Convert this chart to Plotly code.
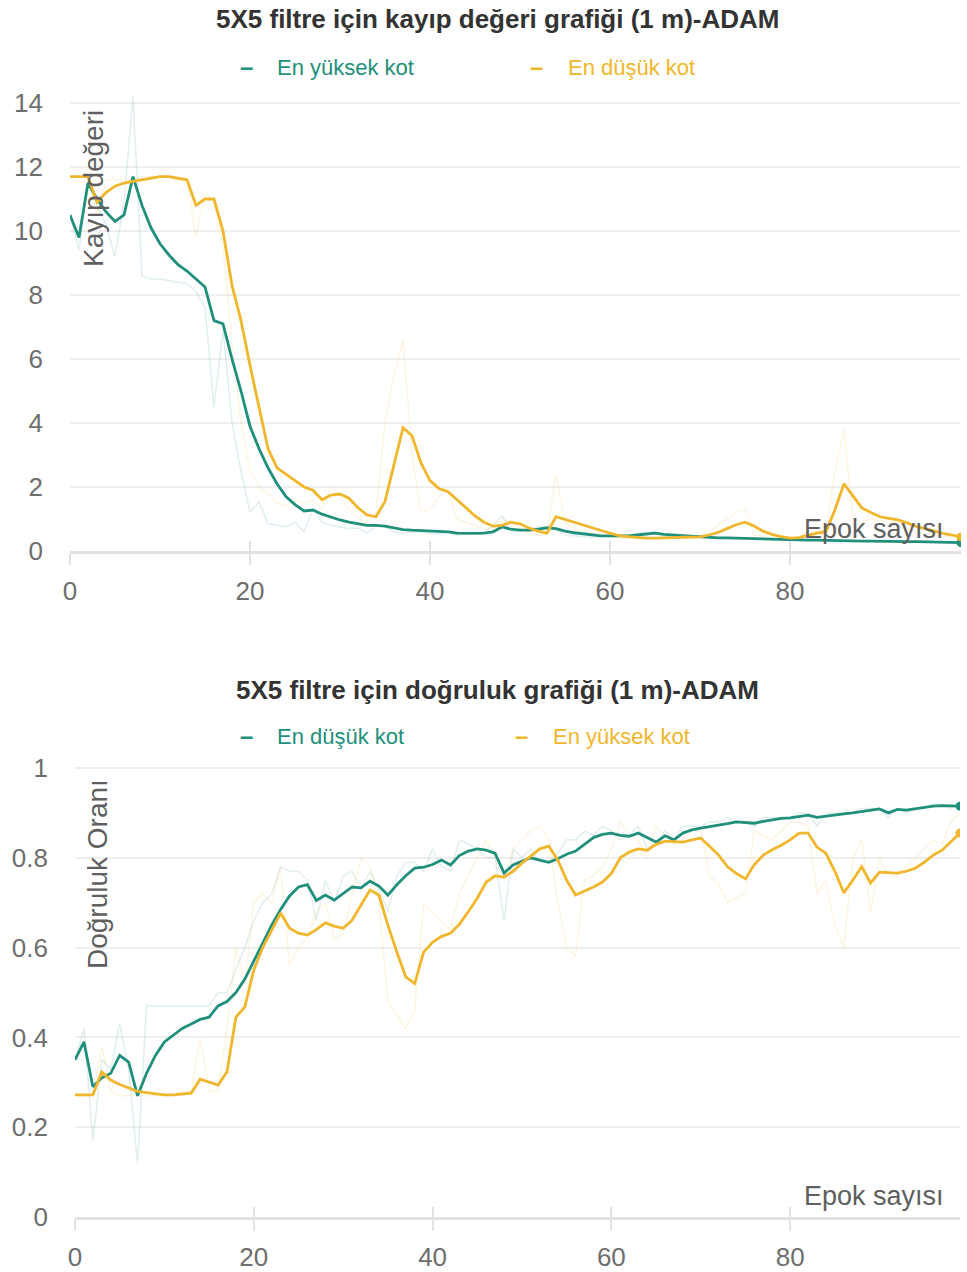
import plotly.graph_objects as go

W, H = 967, 1272
TEAL = "#20907c"
YELLOW = "#f0b62c"
FONT = "Liberation Sans, Arial, sans-serif"

epochs = list(range(100))

loss_high_smooth = [10.5, 9.8, 11.5, 11.0, 10.6, 10.3, 10.5, 11.7, 10.8, 10.1,
                    9.6, 9.25, 8.95, 8.75, 8.5, 8.25, 7.2, 7.1, 6.0, 5.0,
                    3.9, 3.2, 2.6, 2.1, 1.7, 1.45, 1.25, 1.28, 1.15, 1.05,
                    0.97, 0.9, 0.85, 0.8, 0.8, 0.78, 0.72, 0.67, 0.65, 0.64,
                    0.62, 0.6, 0.6, 0.56, 0.55, 0.55, 0.56, 0.6, 0.75, 0.68,
                    0.65, 0.65, 0.68, 0.72, 0.7, 0.62, 0.57, 0.53, 0.49, 0.47,
                    0.47, 0.47, 0.47, 0.5, 0.52, 0.56, 0.52, 0.5, 0.47, 0.45,
                    0.43, 0.42, 0.41, 0.41, 0.4, 0.4, 0.4, 0.39, 0.38, 0.37,
                    0.36, 0.35, 0.34, 0.34, 0.33, 0.33, 0.32, 0.32, 0.31, 0.31,
                    0.3, 0.3, 0.3, 0.29, 0.29, 0.28, 0.28, 0.27, 0.27, 0.26]

loss_low_smooth = [11.7, 11.7, 11.7, 10.9, 11.2, 11.4, 11.5, 11.55, 11.6, 11.65,
                   11.7, 11.7, 11.65, 11.6, 10.8, 11.0, 11.0, 10.0, 8.3, 7.2,
                   5.8, 4.5, 3.2, 2.6, 2.4, 2.2, 2.0, 1.9, 1.6, 1.75,
                   1.78, 1.65, 1.35, 1.13, 1.07, 1.55, 2.7, 3.85, 3.6, 2.75,
                   2.2, 1.95, 1.85, 1.6, 1.35, 1.1, 0.9, 0.78, 0.8, 0.9,
                   0.85, 0.72, 0.62, 0.56, 1.07, 0.98, 0.9, 0.8, 0.72, 0.64,
                   0.56, 0.48, 0.45, 0.42, 0.4, 0.4, 0.4, 0.42, 0.43, 0.44,
                   0.44, 0.5, 0.58, 0.7, 0.82, 0.9, 0.78, 0.62, 0.52, 0.45,
                   0.4, 0.42, 0.5, 0.56, 0.6, 1.3, 2.1, 1.7, 1.34, 1.2,
                   1.07, 1.02, 0.97, 0.88, 0.77, 0.7, 0.62, 0.55, 0.5, 0.44]

loss_high_raw = [10.5, 9.4, 11.6, 10.8, 10.2, 9.2, 10.9, 14.2, 8.6, 8.5,
                 8.5, 8.45, 8.4, 8.35, 8.1, 7.6, 4.5, 6.9, 4.0, 2.5,
                 1.2, 1.55, 0.85, 0.8, 0.75, 0.9, 0.6, 1.3, 0.9, 0.8,
                 0.75, 0.7, 0.72, 0.55, 0.8, 0.75, 0.6, 0.55, 0.6, 0.6,
                 0.55, 0.52, 0.6, 0.5, 0.52, 0.55, 0.6, 0.8, 1.1, 0.6,
                 0.62, 0.66, 0.75, 0.78, 0.65, 0.5, 0.48, 0.45, 0.42, 0.45,
                 0.46, 0.47, 0.48, 0.55, 0.58, 0.62, 0.45, 0.45, 0.42, 0.42,
                 0.4, 0.4, 0.4, 0.4, 0.39, 0.4, 0.4, 0.37, 0.36, 0.35,
                 0.34, 0.34, 0.33, 0.33, 0.32, 0.32, 0.31, 0.31, 0.3, 0.3,
                 0.29, 0.29, 0.29, 0.28, 0.28, 0.27, 0.27, 0.26, 0.26, 0.25]

loss_low_raw = [11.7, 11.7, 11.7, 10.5, 11.6, 11.6, 11.6, 11.6, 11.7, 11.7,
                11.7, 11.7, 11.6, 11.6, 9.8, 11.2, 10.9, 9.5, 6.5, 4.0,
                2.5, 2.0, 1.8, 1.5, 1.4, 1.6, 1.5, 1.6, 1.3, 2.0,
                1.7, 1.3, 1.0, 0.9, 1.2, 4.0, 5.5, 6.6, 3.0, 1.2,
                1.3, 1.7, 1.9, 1.0, 0.9, 0.8, 0.7, 0.7, 1.0, 0.9,
                0.7, 0.55, 0.5, 0.5, 2.4, 0.9, 0.7, 0.6, 0.55, 0.5,
                0.45, 0.4, 0.4, 0.4, 0.38, 0.4, 0.4, 0.45, 0.45, 0.45,
                0.45, 0.6, 0.8, 1.0, 1.2, 1.3, 0.5, 0.45, 0.4, 0.38,
                0.4, 0.45, 0.6, 0.62, 0.65, 2.5, 3.8, 1.0, 0.9, 1.0,
                0.95, 0.9, 0.9, 0.7, 0.6, 0.55, 0.5, 0.45, 0.45, 0.4]

acc_low_smooth = [0.35, 0.39, 0.29, 0.31, 0.32, 0.36, 0.345, 0.27, 0.32, 0.36,
                  0.39, 0.405, 0.42, 0.43, 0.44, 0.445, 0.47, 0.48, 0.5, 0.53,
                  0.57, 0.61, 0.65, 0.685, 0.715, 0.735, 0.74, 0.705, 0.717, 0.706,
                  0.72, 0.735, 0.733, 0.748, 0.737, 0.717, 0.74, 0.76, 0.777, 0.779,
                  0.785, 0.795, 0.784, 0.805, 0.815, 0.82, 0.817, 0.81, 0.766, 0.784,
                  0.792, 0.8, 0.795, 0.79, 0.798, 0.808, 0.815, 0.83, 0.845, 0.852,
                  0.855, 0.85, 0.848, 0.855, 0.845, 0.835, 0.849, 0.84, 0.855, 0.862,
                  0.866, 0.869, 0.872, 0.876, 0.88, 0.879, 0.877, 0.881, 0.885, 0.888,
                  0.889, 0.892, 0.895, 0.89, 0.893, 0.896, 0.898, 0.9, 0.903, 0.907,
                  0.909, 0.9, 0.908, 0.906, 0.909, 0.911, 0.915, 0.916, 0.915, 0.915]

acc_high_smooth = [0.272, 0.272, 0.272, 0.323, 0.305, 0.295, 0.287, 0.28, 0.277, 0.274,
                   0.272, 0.272, 0.274, 0.276, 0.307, 0.3, 0.294, 0.323, 0.445, 0.468,
                   0.55, 0.6, 0.64, 0.677, 0.643, 0.632, 0.628, 0.64, 0.655, 0.648,
                   0.643, 0.661, 0.695, 0.728, 0.717, 0.65, 0.59, 0.535, 0.52, 0.59,
                   0.612, 0.625, 0.632, 0.652, 0.68, 0.71, 0.746, 0.76, 0.757, 0.77,
                   0.788, 0.805, 0.82, 0.826, 0.795, 0.75, 0.717, 0.726, 0.735, 0.746,
                   0.765, 0.8, 0.813, 0.82, 0.817, 0.83, 0.837, 0.836, 0.835, 0.84,
                   0.844, 0.825, 0.806, 0.78, 0.765, 0.753, 0.785, 0.806, 0.818, 0.828,
                   0.84, 0.855, 0.855, 0.824, 0.81, 0.77, 0.722, 0.75, 0.78, 0.744,
                   0.768, 0.767, 0.766, 0.77, 0.777, 0.79, 0.806, 0.817, 0.835, 0.855]

acc_low_raw = [0.35, 0.42, 0.17, 0.35, 0.33, 0.43, 0.33, 0.12, 0.47, 0.47,
               0.47, 0.47, 0.47, 0.47, 0.47, 0.47, 0.5, 0.5, 0.55, 0.6,
               0.66, 0.7, 0.72, 0.78, 0.77, 0.77, 0.75, 0.66, 0.75, 0.7,
               0.76, 0.77, 0.73, 0.77, 0.73, 0.68, 0.76, 0.79, 0.79, 0.77,
               0.82, 0.78, 0.77, 0.84, 0.83, 0.82, 0.8, 0.8, 0.66, 0.82,
               0.8, 0.82, 0.79, 0.79, 0.81, 0.84, 0.84, 0.86, 0.85, 0.87,
               0.86, 0.84, 0.85, 0.87, 0.82, 0.83, 0.86, 0.84, 0.87, 0.87,
               0.87, 0.88, 0.88, 0.89, 0.88, 0.88, 0.87, 0.89, 0.89, 0.89,
               0.89, 0.9, 0.9, 0.87, 0.9, 0.9, 0.9, 0.9, 0.91, 0.91,
               0.91, 0.89, 0.91, 0.9, 0.91, 0.91, 0.92, 0.92, 0.91, 0.92]

acc_high_raw = [0.27, 0.27, 0.27, 0.38, 0.28, 0.27, 0.27, 0.27, 0.27, 0.27,
                0.27, 0.27, 0.28, 0.28, 0.4, 0.28, 0.28, 0.42, 0.6, 0.52,
                0.7, 0.72, 0.7, 0.78, 0.56, 0.6, 0.62, 0.68, 0.7, 0.62,
                0.63, 0.72, 0.8, 0.78, 0.7, 0.48, 0.45, 0.42, 0.46, 0.7,
                0.68, 0.66, 0.64, 0.72, 0.76, 0.8, 0.84, 0.8, 0.75, 0.82,
                0.84, 0.86, 0.87, 0.84, 0.7, 0.6, 0.58, 0.75, 0.76, 0.78,
                0.82, 0.88, 0.85, 0.84, 0.8, 0.87, 0.85, 0.83, 0.84, 0.86,
                0.86, 0.76, 0.74, 0.7, 0.71, 0.72, 0.86, 0.85, 0.84, 0.86,
                0.88, 0.88, 0.87, 0.72, 0.75, 0.65, 0.6, 0.8, 0.84, 0.68,
                0.8, 0.76, 0.76, 0.78, 0.8, 0.82, 0.84, 0.83, 0.88, 0.9]


def px(x):
    return x / W


def py(y):
    return 1 - y / H


def rgba(hex_color, a):
    h = hex_color.lstrip("#")
    r, g, b = int(h[0:2], 16), int(h[2:4], 16), int(h[4:6], 16)
    return f"rgba({r},{g},{b},{a})"


fig = go.Figure()


def add_panel(xa, ya, raw_a, raw_b, sm_a, sm_b, name_a, name_b):
    for raw, col in ((raw_a, TEAL), (raw_b, YELLOW)):
        fig.add_trace(go.Scatter(x=epochs, y=raw, mode="lines", xaxis=xa, yaxis=ya,
                                 line=dict(color=rgba(col, 0.14), width=1.5),
                                 showlegend=False, hoverinfo="skip"))
    for sm, col, nm in ((sm_a, TEAL, name_a), (sm_b, YELLOW, name_b)):
        fig.add_trace(go.Scatter(x=epochs, y=sm, mode="lines", xaxis=xa, yaxis=ya,
                                 line=dict(color=col, width=2.8), name=nm,
                                 showlegend=False))
        fig.add_trace(go.Scatter(x=[epochs[-1]], y=[sm[-1]], mode="markers",
                                 xaxis=xa, yaxis=ya, marker=dict(color=col, size=9),
                                 showlegend=False, hoverinfo="skip"))


add_panel("x", "y", loss_high_raw, loss_low_raw, loss_high_smooth, loss_low_smooth,
          "En yüksek kot", "En düşük kot")
add_panel("x2", "y2", acc_low_raw, acc_high_raw, acc_low_smooth, acc_high_smooth,
          "En düşük kot", "En yüksek kot")

tickfont = dict(family=FONT, size=26, color="#6e6e6e")
xcommon = dict(range=[0, 99], tickvals=[0, 20, 40, 60, 80], showgrid=False,
               zeroline=False, showline=True, linecolor="#e2e2e2", linewidth=3,
               ticks="outside", ticklen=11, tickwidth=2, tickcolor="#e2e2e2",
               tickfont=tickfont, ticklabelstandoff=4, automargin=False)
ycommon = dict(showgrid=True, gridcolor="#efefef", gridwidth=1.5, zeroline=False,
               showline=False, ticks="", tickfont=tickfont, ticklabelstandoff=26,
               automargin=False)
overlay_ticks = dict(range=[0, 99], tickvals=[0, 20, 40, 60, 80],
                     ticks="inside", ticklen=10, tickwidth=2, tickcolor="#e2e2e2",
                     showticklabels=False, showgrid=False, zeroline=False,
                     showline=False, automargin=False)

top_y0, top_y1 = 551, 551 - 14.3 * 32
bot_y0, bot_y1 = 1217, 1217 - 1.03 * 449

fig.update_layout(
    template="none",
    width=W, height=H, margin=dict(l=0, r=0, t=0, b=0, autoexpand=False),
    paper_bgcolor="white", plot_bgcolor="white",
    font=dict(family=FONT),
    hovermode="closest",
    xaxis=dict(domain=[px(70), px(961)], anchor="y", **xcommon),
    yaxis=dict(domain=[py(top_y0), py(top_y1)], anchor="x", range=[0, 14.3],
               tickvals=[0, 2, 4, 6, 8, 10, 12, 14], **ycommon),
    xaxis2=dict(domain=[px(75), px(960)], anchor="y2", **xcommon),
    yaxis2=dict(domain=[py(bot_y0), py(bot_y1)], anchor="x2", range=[0, 1.03],
                tickvals=[0, 0.2, 0.4, 0.6, 0.8, 1],
                ticktext=["0", "0.2", "0.4", "0.6", "0.8", "1"], **ycommon),
    xaxis3=dict(overlaying="x", anchor="y", **overlay_ticks),
    xaxis4=dict(overlaying="x2", anchor="y2", **overlay_ticks),
)

# invisible traces so the overlay tick axes are drawn
fig.add_trace(go.Scatter(x=[0], y=[0], xaxis="x3", yaxis="y", mode="markers",
                         marker=dict(opacity=0), showlegend=False, hoverinfo="skip"))
fig.add_trace(go.Scatter(x=[0], y=[0], xaxis="x4", yaxis="y2", mode="markers",
                         marker=dict(opacity=0), showlegend=False, hoverinfo="skip"))

ann = []


def text(x, y, s, size, color, bold=False, angle=0, xanchor="center"):
    ann.append(dict(x=px(x), y=py(y), xref="paper", yref="paper",
                    text=f"<b>{s}</b>" if bold else s,
                    showarrow=False, textangle=angle, xanchor=xanchor, yanchor="middle",
                    font=dict(family=FONT, size=size, color=color)))


text(497, 19, "5X5 filtre için kayıp değeri grafiği (1 m)-ADAM", 26, "#333333", bold=True)
text(497, 690, "5X5 filtre için doğruluk grafiği (1 m)-ADAM", 26, "#333333", bold=True)

# legends
LEG = 22
text(238, 66, "<b>–</b>", 24, TEAL, xanchor="left")
text(275, 67, "En yüksek kot", LEG, TEAL, xanchor="left")
text(528, 66, "<b>–</b>", 24, YELLOW, xanchor="left")
text(566, 67, "En düşük kot", LEG, YELLOW, xanchor="left")
text(238, 735, "<b>–</b>", 24, TEAL, xanchor="left")
text(275, 736, "En düşük kot", LEG, TEAL, xanchor="left")
text(513, 735, "<b>–</b>", 24, YELLOW, xanchor="left")
text(551, 736, "En yüksek kot", LEG, YELLOW, xanchor="left")

# axis titles
text(93, 189, "Kayıp değeri", 28, "#5f5f5f", angle=-90)
text(97, 874, "Doğruluk Oranı", 28, "#5f5f5f", angle=-90)
text(874, 529, "Epok sayısı", 27, "#5f5f5f")
text(874, 1196, "Epok sayısı", 27, "#5f5f5f")

fig.update_layout(annotations=ann)
fig.write_html("out.html")
